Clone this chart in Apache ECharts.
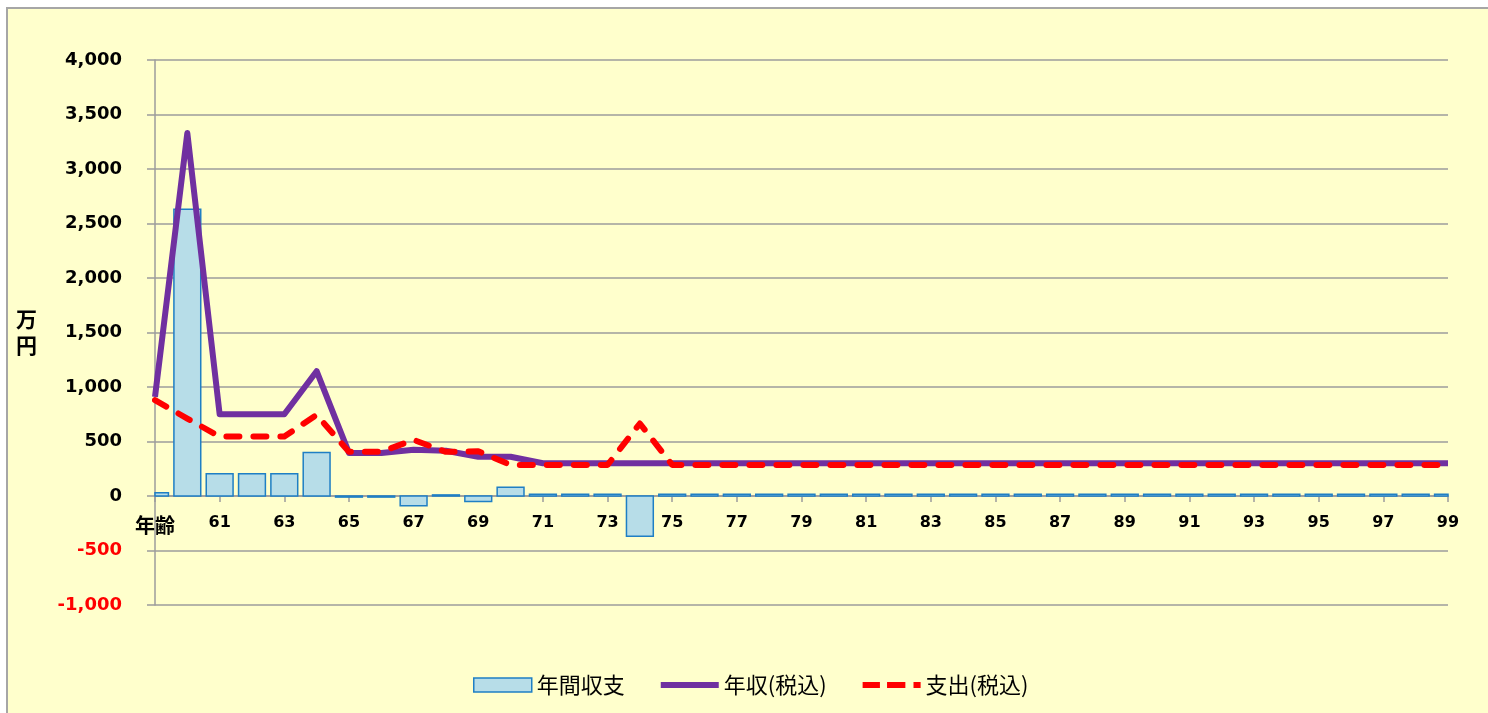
<!DOCTYPE html>
<html>
<head>
<meta charset="utf-8">
<script src="https://cdn.jsdelivr.net/npm/echarts@6/dist/echarts.min.js"></script>
<style>
  html, body { margin: 0; padding: 0; background: #fff; }
  #frame {
    position: absolute; left: 6px; top: 7px; width: 1482px; height: 706px;
    box-sizing: border-box; border-left: 2px solid #a6a6a6; border-top: 2px solid #a6a6a6;
    background: #ffffcc;
  }
  #chart { width: 100%; height: 100%; }
</style>
</head>
<body>
<div id="frame"><div id="chart"></div></div>
<script>
// ages 59..99, first one shown as the axis caption
const ages = ['年齢']
for (let a = 60; a <= 99; a++) ages.push(String(a))

// 年収(税込), 万円
const income = [910, 3330, 750, 750, 750, 1145, 395, 395, 425, 415, 360, 360,
  300, 300, 300, 300, 300, 300, 300, 300, 300, 300, 300, 300, 300, 300, 300, 300,
  300, 300, 300, 300, 300, 300, 300, 300, 300, 300, 300, 300, 300]

// 支出(税込)
const expense = [880, 710, 545, 545, 545, 745, 405, 405, 515, 405, 410, 285,
  285, 285, 285, 665, 285, 285, 285, 285, 285, 285, 285, 285, 285, 285, 285, 285,
  285, 285, 285, 285, 285, 285, 285, 285, 285, 285, 285, 285, 285]

// 年間収支
const balance = [30, 2630, 205, 205, 205, 400, -10, -10, -90, 10, -50, 80,
  15, 15, 15, -370, 15, 15, 15, 15, 15, 15, 15, 15, 15, 15, 15, 15,
  15, 15, 15, 15, 15, 15, 15, 15, 15, 15, 15, 15, 15]

const yTicks = { min: -1000, max: 4000, interval: 500 }

const chart = echarts.init(document.getElementById('chart'))
const gray = '#9c9c9c'
const font = 'DejaVu Sans'
const cjk = '"Noto Sans CJK JP"'

// bars centred on the category points, clipped at the plot edges like Excel does
function renderBar(params, api) {
  const base = api.coord([api.value(0), 0])
  const end = api.coord([api.value(0), api.value(1)])
  const w = api.size([1, 0])[0] * 0.83
  const rect = echarts.graphic.clipRectByRect({
    x: base[0] - w / 2,
    y: Math.min(base[1], end[1]),
    width: w,
    height: Math.abs(base[1] - end[1])
  }, params.coordSys)
  if (!rect) return
  return {
    type: 'rect',
    shape: rect,
    style: { fill: '#b7dde8', stroke: '#1f7fc4', lineWidth: 1.5 }
  }
}

chart.setOption({
  animation: false,
  grid: { left: 147, top: 51, right: 40, bottom: 108, outerBoundsMode: 'none' },
  legend: {
    left: 460,
    top: 660,
    itemWidth: 58,
    itemHeight: 14,
    itemGap: 36,
    textStyle: { fontFamily: cjk, fontSize: 22, color: '#000' },
    data: [
      { name: '年間収支', icon: 'rect', itemStyle: { color: '#b7dde8', borderColor: '#1f7fc4', borderWidth: 1.5 } },
      { name: '年収(税込)', icon: 'path://M0,0L58,0L58,6L0,6Z' },
      { name: '支出(税込)', icon: 'path://M0,0L17,0L17,6L0,6ZM24,0L42,0L42,6L24,6ZM50,0L57,0L57,6L50,6Z' }
    ]
  },
  xAxis: {
    type: 'category',
    data: ages,
    boundaryGap: false,
    offset: -109,
    axisLine: { onZero: false, lineStyle: { color: gray, width: 1.5 } },
    axisTick: { interval: 1, length: 6, lineStyle: { color: gray, width: 1.5 } },
    axisLabel: {
      interval: 1,
      margin: 19,
      fontFamily: font,
      fontWeight: 'bold',
      fontSize: 16,
      color: '#000',
      formatter: (v, i) => (i === 0 ? '{cap|' + v + '}' : v),
      rich: { cap: { fontFamily: cjk, fontWeight: 'bold', fontSize: 20, color: '#000' } }
    },
    splitLine: { show: false }
  },
  yAxis: {
    type: 'value',
    min: yTicks.min,
    max: yTicks.max,
    interval: yTicks.interval,
    name: '万\n円',
    nameLocation: 'middle',
    nameRotate: 0,
    nameGap: 118,
    nameTextStyle: { fontFamily: cjk, fontSize: 21, fontWeight: 'bold', color: '#000', lineHeight: 26 },
    axisLine: { show: true, lineStyle: { color: gray, width: 1.5 } },
    axisTick: { show: true, length: 8, lineStyle: { color: gray, width: 1.5 } },
    axisLabel: {
      margin: 33,
      fontFamily: font,
      fontWeight: 'bold',
      fontSize: 18,
      formatter: v => v.toLocaleString('en-US'),
      color: v => (Number(v) < 0 ? '#ff0000' : '#000')
    },
    splitLine: { lineStyle: { color: gray, width: 1.5 } }
  },
  series: [
    {
      name: '年間収支',
      type: 'custom',
      renderItem: renderBar,
      data: balance.map((v, i) => [i, v]),
      encode: { x: 0, y: 1 },
      itemStyle: { color: '#b7dde8', borderColor: '#1f7fc4', borderWidth: 1.5 },
      z: 2
    },
    {
      name: '年収(税込)',
      type: 'line',
      data: income,
      symbol: 'none',
      lineStyle: { color: '#7030a0', width: 6, join: 'round' },
      itemStyle: { color: '#7030a0' },
      z: 3
    },
    {
      name: '支出(税込)',
      type: 'line',
      data: expense,
      symbol: 'none',
      lineStyle: { color: '#ff0000', width: 6, type: [13, 14], cap: 'round', join: 'round' },
      itemStyle: { color: '#ff0000' },
      z: 4
    }
  ]
})
</script>
</body>
</html>
